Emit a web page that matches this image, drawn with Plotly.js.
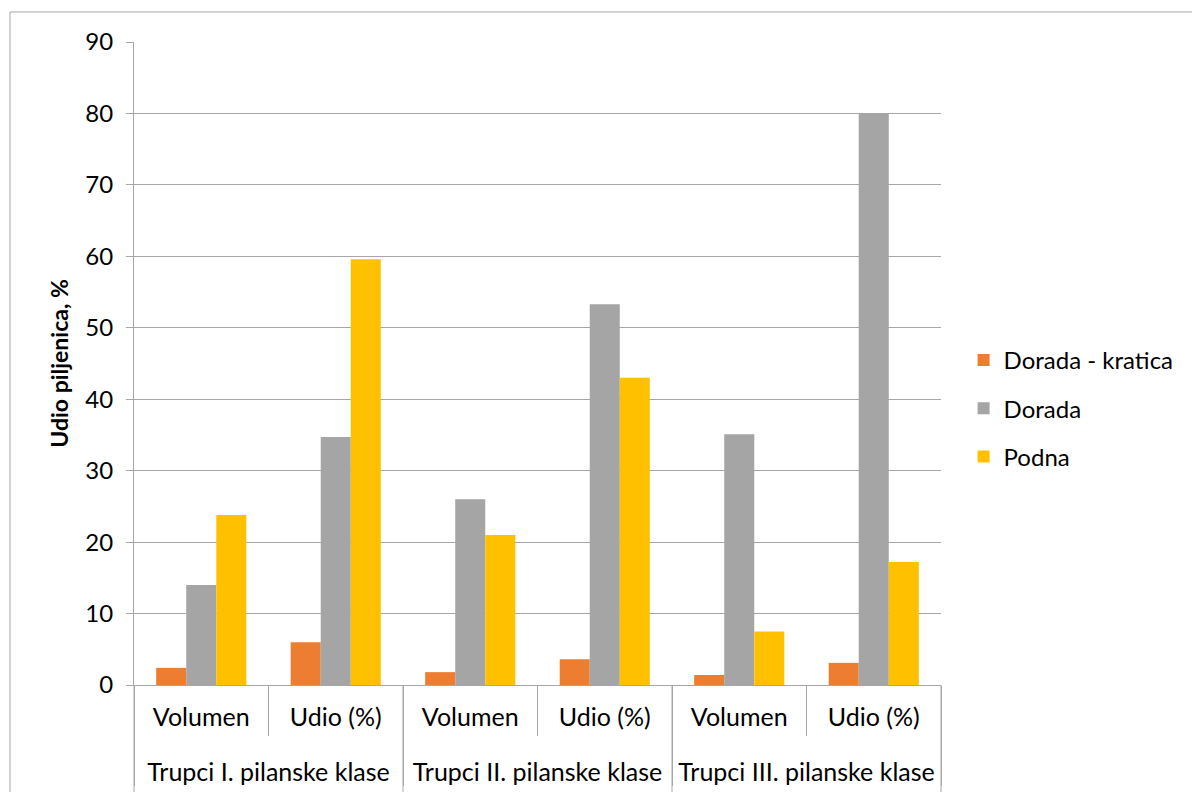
<!DOCTYPE html>
<html>
<head>
<meta charset="utf-8">
<script src="https://cdn.plot.ly/plotly-3.0.1.min.js"></script>
<style>html,body{margin:0;padding:0;background:#fff;}#chart{width:1192px;height:792px;}</style>
</head>
<body>
<div id="chart"></div>
<script>
const groups = ["Trupci I. pilanske klase","Trupci I. pilanske klase","Trupci II. pilanske klase","Trupci II. pilanske klase","Trupci III. pilanske klase","Trupci III. pilanske klase"];
const subs = ["Volumen","Udio (%)","Volumen","Udio (%)","Volumen","Udio (%)"];
const seriesNames = ["Dorada - kratica","Dorada","Podna"];
const doradaKratica = [2.4, 6.0, 1.8, 3.6, 1.4, 3.1];
const dorada = [14.0, 34.7, 26.0, 53.3, 35.1, 80.0];
const podna = [23.8, 59.6, 21.0, 43.0, 7.5, 17.2];
const colors = ["#ED7D31","#A5A5A5","#FFC000"];
const yTitle = "Udio piljenica, %";

const vals = [doradaKratica, dorada, podna];
const groupDisplay = groups.map(g => "<br>" + g);
const traces = vals.map((v,i)=>({
  type:"bar", name:seriesNames[i], x:[groupDisplay, subs], y:v,
  marker:{color:colors[i]}, legendgroup:"g"+i
}));

const nGroups = new Set(groups).size;
const groupLines = [];
for (let g=0; g<=nGroups; g++) {
  groupLines.push({type:"line", xref:"paper", yref:"paper", x0:g/nGroups, x1:g/nGroups, y0:0, y1:-0.2, line:{color:"#A6A6A6", width:1}});
}

const layout = {
  width:1192, height:792,
  margin:{l:134, r:251, t:42, b:107, autoexpand:false},
  paper_bgcolor:"#fff", plot_bgcolor:"#fff",
  font:{family:"Lato, 'Open Sans', sans-serif", size:25, color:"#000"},
  barmode:"group", bargap:0.33, bargroupgap:0,
  showlegend:true,
  legend:{x:1.028, y:0.43, yanchor:"middle", xanchor:"left", font:{size:24}, tracegroupgap:14, itemwidth:30},
  xaxis:{
    type:"multicategory",
    showline:true, linecolor:"#A6A6A6", linewidth:1,
    ticks:"outside", ticklen:50, tickcolor:"#A6A6A6", tickwidth:1,
    showdividers:true, dividercolor:"#A6A6A6", dividerwidth:1,
    tickfont:{size:25}, ticklabelstandoff:10,
    mirror:false, showgrid:false
  },
  yaxis:{
    range:[0,90], dtick:10, tick0:0,
    showgrid:true, gridcolor:"#A6A6A6", gridwidth:1,
    showline:true, linecolor:"#A6A6A6", linewidth:1,
    ticks:"outside", ticklen:7, tickcolor:"#A6A6A6",
    tickfont:{size:24}, zeroline:false, ticklabelstandoff:8,
    title:{text:"<b>"+yTitle+"</b>", font:{size:23}, standoff:10}
  },
  shapes:[{type:"rect", xref:"paper", yref:"paper", x0:-0.1537, x1:1.4, y0:-0.2, y1:1.0467, line:{color:"#A6A6A6", width:1}, fillcolor:"rgba(0,0,0,0)", layer:"below"}].concat(groupLines)
};
Plotly.newPlot("chart", traces, layout, {displayModeBar:false});
</script>
</body>
</html>
